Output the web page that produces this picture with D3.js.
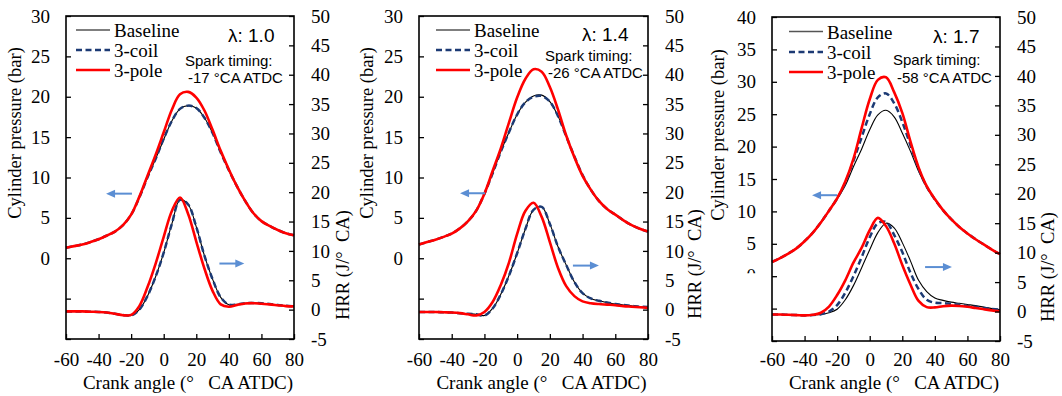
<!DOCTYPE html>
<html>
<head>
<meta charset="utf-8">
<script src="https://cdn.jsdelivr.net/npm/d3@7"></script>
<style>
  body { margin: 0; background: #fff; }
  text { white-space: pre; }
</style>
</head>
<body>
<svg id="chart" width="1062" height="396"></svg>
<script>
// crank angle samples (deg CA ATDC)
const crankAngle = [-60, -55, -50, -45, -40, -35, -30, -25, -20, -15, -10, -5, 0, 5, 10, 15, 20, 25, 30, 35, 40, 45, 50, 55, 60, 65, 70, 75, 80];

// lambda 1.0 : cylinder pressure (bar)
const p1Baseline = [1.3, 1.5, 1.7, 2.0, 2.35, 2.8, 3.3, 4.1, 5.4, 7.5, 10.0, 12.3, 14.7, 17.0, 18.5, 18.9, 18.6, 17.4, 15.5, 13.1, 10.9, 8.9, 7.1, 5.6, 4.6, 4.0, 3.5, 3.1, 2.85];
const p1Coil     = [1.3, 1.5, 1.7, 2.0, 2.35, 2.8, 3.3, 4.1, 5.4, 7.5, 10.0, 12.3, 14.8, 17.0, 18.5, 18.9, 18.6, 17.4, 15.5, 13.1, 10.9, 8.9, 7.1, 5.6, 4.6, 4.0, 3.5, 3.1, 2.85];
const p1Pole     = [1.3, 1.5, 1.7, 2.0, 2.35, 2.8, 3.3, 4.1, 5.4, 7.6, 10.2, 12.8, 15.6, 18.4, 20.3, 20.6, 19.9, 18.3, 15.9, 13.3, 11.0, 8.9, 7.1, 5.6, 4.6, 4.0, 3.5, 3.1, 2.85];
// lambda 1.0 : heat release rate (J/deg CA)
const h1Baseline = [-0.3, -0.3, -0.3, -0.35, -0.4, -0.5, -0.7, -0.9, -1.0, 0.0, 2.3, 5.6, 9.7, 14.6, 18.7, 17.9, 14.1, 9.2, 5.2, 2.1, 0.85, 0.9, 1.1, 1.15, 1.1, 0.95, 0.8, 0.65, 0.55];
const h1Coil     = [-0.3, -0.3, -0.3, -0.35, -0.4, -0.5, -0.7, -0.9, -1.0, 0.0, 2.3, 5.6, 9.7, 14.6, 18.7, 17.9, 14.1, 9.2, 5.2, 2.1, 0.85, 0.9, 1.1, 1.15, 1.1, 0.95, 0.8, 0.65, 0.55];
const h1Pole     = [-0.3, -0.3, -0.3, -0.35, -0.4, -0.5, -0.7, -0.95, -0.9, 0.6, 3.8, 7.8, 12.4, 16.8, 19.1, 16.3, 11.6, 7.0, 3.2, 0.9, 0.5, 0.8, 1.05, 1.1, 1.0, 0.9, 0.75, 0.6, 0.55];

// lambda 1.4
const p2Baseline = [1.7, 2.0, 2.3, 2.65, 3.05, 3.7, 4.6, 5.9, 8.0, 10.5, 13.2, 15.6, 17.8, 19.3, 20.1, 20.2, 19.4, 17.6, 15.1, 12.6, 10.3, 8.5, 7.1, 6.1, 5.4, 4.7, 4.1, 3.65, 3.3];
const p2Coil     = [1.7, 2.0, 2.3, 2.65, 3.05, 3.7, 4.6, 5.9, 8.0, 10.5, 13.2, 15.6, 17.8, 19.3, 20.0, 20.1, 19.4, 17.6, 15.1, 12.6, 10.3, 8.5, 7.1, 6.1, 5.4, 4.7, 4.1, 3.65, 3.3];
const p2Pole     = [1.7, 2.0, 2.3, 2.65, 3.05, 3.7, 4.6, 5.9, 8.0, 10.8, 13.6, 16.8, 19.9, 22.2, 23.4, 23.1, 21.2, 18.4, 15.2, 12.5, 10.2, 8.5, 7.1, 6.1, 5.4, 4.7, 4.1, 3.65, 3.3];
const h2Baseline = [-0.4, -0.4, -0.4, -0.45, -0.5, -0.6, -0.7, -0.8, -1.0, 0.2, 2.6, 5.8, 9.6, 13.7, 17.0, 17.5, 14.6, 10.7, 7.6, 4.7, 2.8, 1.9, 1.5, 1.2, 0.95, 0.8, 0.65, 0.5, 0.45];
const h2Coil     = [-0.4, -0.4, -0.4, -0.45, -0.5, -0.6, -0.7, -0.8, -1.0, 0.2, 2.6, 5.8, 9.6, 13.7, 17.0, 17.5, 14.6, 10.7, 7.6, 4.7, 2.8, 1.9, 1.5, 1.2, 0.95, 0.8, 0.65, 0.5, 0.45];
const h2Pole     = [-0.4, -0.4, -0.4, -0.45, -0.5, -0.6, -0.8, -1.0, -0.4, 1.3, 4.2, 8.0, 12.9, 16.8, 18.2, 15.8, 11.5, 7.1, 4.0, 2.3, 1.4, 1.1, 0.95, 0.85, 0.75, 0.6, 0.5, 0.4, 0.3];

// lambda 1.7
const p3Baseline = [2.2, 2.8, 3.5, 4.3, 5.4, 6.7, 8.3, 10.1, 11.9, 14.0, 16.9, 19.6, 22.6, 24.9, 25.6, 24.6, 22.1, 19.3, 16.2, 13.7, 11.8, 10.2, 8.8, 7.6, 6.6, 5.7, 4.9, 4.1, 3.4];
const p3Coil     = [2.2, 2.8, 3.5, 4.3, 5.4, 6.7, 8.3, 10.1, 12.0, 14.4, 17.8, 21.4, 25.0, 27.6, 28.2, 26.7, 23.8, 20.2, 16.6, 13.8, 11.85, 10.2, 8.8, 7.6, 6.6, 5.7, 4.9, 4.1, 3.4];
const p3Pole     = [2.2, 2.8, 3.5, 4.3, 5.4, 6.7, 8.3, 10.1, 12.0, 14.6, 18.1, 22.8, 27.3, 30.3, 30.7, 28.4, 25.2, 20.8, 16.8, 13.9, 11.9, 10.2, 8.8, 7.6, 6.6, 5.7, 4.9, 4.1, 3.4];
const h3Baseline = [-0.5, -0.5, -0.55, -0.6, -0.65, -0.55, -0.5, -0.2, 0.4, 2.0, 4.4, 7.4, 10.5, 13.4, 15.0, 14.2, 11.7, 8.6, 5.3, 3.4, 2.3, 1.9, 1.6, 1.4, 1.2, 1.0, 0.75, 0.5, 0.3];
const h3Coil     = [-0.5, -0.5, -0.55, -0.6, -0.65, -0.6, -0.45, 0.0, 1.1, 3.2, 6.0, 9.2, 12.6, 15.0, 15.2, 13.0, 10.1, 6.6, 3.8, 2.0, 1.5, 1.45, 1.3, 1.15, 0.95, 0.8, 0.6, 0.45, 0.3];
const h3Pole     = [-0.5, -0.5, -0.55, -0.6, -0.65, -0.55, -0.2, 0.85, 2.8, 5.3, 8.3, 10.8, 13.8, 15.9, 14.5, 11.6, 7.9, 4.6, 1.8, 0.75, 0.7, 0.9, 1.0, 0.95, 0.8, 0.6, 0.4, 0.2, 0.05];

// ticks and labels
const xTicks = [-60, -40, -20, 0, 20, 40, 60, 80];
const pTicks30 = [-10, -5, 0, 5, 10, 15, 20, 25, 30];
const pTicks40 = [-10, -5, 0, 5, 10, 15, 20, 25, 30, 35, 40];
const hrrTicks = [-5, 0, 5, 10, 15, 20, 25, 30, 35, 40, 45, 50];
const seriesNames = ['Baseline', '3-coil', '3-pole'];
const lambdaLabels = ['\u03bb: 1.0', '\u03bb: 1.4', '\u03bb: 1.7'];
const sparkLabels = ['-17 \u00b0CA ATDC', '-26 \u00b0CA ATDC', '-58 \u00b0CA ATDC'];

const serif = '"Liberation Serif", "Times New Roman", serif';
const sans = '"Liberation Sans", Arial, sans-serif';
const arrowBlue = '#5b8ed3';
const styles = [
  { color: '#000', width: 1.1, dash: null },
  { color: '#1c3a74', width: 2.5, dash: '6,3.5' },
  { color: '#ff0000', width: 2.6, dash: null }
];

// layout of the three panels
const panels = [
  {
    left: 66, right: 294, top: 16, bottom: 339, pMax: 30, pTicks: pTicks30, pLabelMin: 0,
    pres: [p1Baseline, p1Coil, p1Pole], hrr: [h1Baseline, h1Coil, h1Pole],
    legLine: [76, 110], legText: 114, legY: [37, 57, 77],
    lamX: 228, lamY: 42, sparkX: [185, 188], sparkY: [66, 82.5],
    cylX: 21, cylY: 133, hrrX: 349, hrrY: 265,
    arrowL: { a: -35.4, b: -19.5, v: 8.0 }, arrowR: { a: 34.2, b: 49.5, v: 7.85 }
  },
  {
    left: 419, right: 648, top: 16, bottom: 339, pMax: 30, pTicks: pTicks30, pLabelMin: 0,
    pres: [p2Baseline, p2Coil, p2Pole], hrr: [h2Baseline, h2Coil, h2Pole],
    legLine: [436, 470], legText: 474, legY: [37, 57, 77],
    lamX: 582, lamY: 41, sparkX: [545, 548], sparkY: [60.5, 77.5],
    cylX: 373, cylY: 133, hrrX: 701, hrrY: 264,
    arrowL: { a: -34.9, b: -19.6, v: 8.05 }, arrowR: { a: 34.1, b: 50.0, v: 7.5 }
  },
  {
    left: 772, right: 1000, top: 17, bottom: 341, pMax: 40, pTicks: pTicks40, pLabelMin: 5,
    pres: [p3Baseline, p3Coil, p3Pole], hrr: [h3Baseline, h3Coil, h3Pole],
    legLine: [789, 823], legText: 827, legY: [38.5, 59, 79],
    lamX: 933, lamY: 43, sparkX: [893, 897], sparkY: [64.5, 82.5],
    cylX: 724, cylY: 135, hrrX: 1054, hrrY: 267,
    arrowL: { a: -35.4, b: -20.1, v: 12.5 }, arrowR: { a: 34.0, b: 50.5, v: 7.55 }
  }
];

const tickBaseline = 366;   // x tick labels baseline
const titleBaseline = 389;  // crank angle title baseline

const svg = d3.select('#chart');

function styleAxis(g) {
  g.select('.domain').remove();
  g.selectAll('line').attr('stroke', '#000').attr('stroke-width', 1.3);
  g.selectAll('text')
    .attr('fill', '#000')
    .style('font-family', serif)
    .style('font-size', '19px');
}

function arrow(g, x1, x2, y, dir) {
  // dir = -1 points left, 1 points right
  const tip = dir < 0 ? Math.min(x1, x2) : Math.max(x1, x2);
  const tail = dir < 0 ? Math.max(x1, x2) : Math.min(x1, x2);
  g.append('line')
    .attr('x1', tail).attr('x2', tip - dir * 7)
    .attr('y1', y).attr('y2', y)
    .attr('stroke', arrowBlue).attr('stroke-width', 2);
  g.append('path')
    .attr('d', `M${tip},${y} L${tip - dir * 9},${y - 4} L${tip - dir * 9},${y + 4} Z`)
    .attr('fill', arrowBlue);
}

panels.forEach((cfg, pi) => {
  const x = d3.scaleLinear().domain([-60, 80]).range([cfg.left, cfg.right]);
  const yP = d3.scaleLinear().domain([-10, cfg.pMax]).range([cfg.bottom, cfg.top]);
  const yH = d3.scaleLinear().domain([-5, 50]).range([cfg.bottom, cfg.top]);
  const g = svg.append('g');

  // curves
  const lineP = d3.line().x((d, i) => x(crankAngle[i])).y((d) => yP(d)).curve(d3.curveCatmullRom.alpha(0.5));
  const lineH = d3.line().x((d, i) => x(crankAngle[i])).y((d) => yH(d)).curve(d3.curveCatmullRom.alpha(0.5));
  const curves = g.append('g');
  styles.forEach((s, si) => {
    [[lineP, cfg.pres[si]], [lineH, cfg.hrr[si]]].forEach(([gen, vals]) => {
      curves.append('path')
        .attr('d', gen(vals))
        .attr('fill', 'none')
        .attr('stroke', s.color)
        .attr('stroke-width', s.width)
        .attr('stroke-dasharray', s.dash);
    });
  });

  // axes (ticks inside)
  g.append('g')
    .attr('transform', `translate(${cfg.left},0)`)
    .call(d3.axisLeft(yP).tickValues(cfg.pTicks).tickSize(-5).tickPadding(16)
      .tickFormat((d) => (d >= cfg.pLabelMin ? String(d) : '')))
    .call(styleAxis);
  g.append('g')
    .attr('transform', `translate(${cfg.right},0)`)
    .call(d3.axisRight(yH).tickValues(hrrTicks).tickSize(-5).tickPadding(17)
      .tickFormat((d) => String(d)))
    .call(styleAxis)
    .selectAll('text').attr('text-anchor', 'start');
  g.append('g')
    .attr('transform', `translate(0,${cfg.bottom})`)
    .call(d3.axisBottom(x).tickValues(xTicks).tickSize(-5)
      .tickFormat((d) => String(d)))
    .call(styleAxis)
    .selectAll('text')
    .attr('y', tickBaseline - cfg.bottom)
    .attr('dy', null);

  // hidden zero label on the third panel, only its top peeks out
  if (cfg.pLabelMin > 0) {
    const clipId = `clip${pi}`;
    g.append('clipPath').attr('id', clipId)
      .append('rect').attr('x', cfg.left - 40).attr('y', yP(0) - 10).attr('width', 40).attr('height', 7);
    g.append('text')
      .attr('clip-path', `url(#${clipId})`)
      .attr('x', cfg.left - 16).attr('y', yP(0)).attr('dy', '0.32em')
      .attr('text-anchor', 'end')
      .style('font-family', serif).style('font-size', '19px')
      .text('0');
  }

  // frame
  g.append('rect')
    .attr('x', cfg.left).attr('y', cfg.top)
    .attr('width', cfg.right - cfg.left).attr('height', cfg.bottom - cfg.top)
    .attr('fill', 'none').attr('stroke', '#000').attr('stroke-width', 1.6);

  // axis titles
  g.append('text')
    .attr('transform', `translate(${cfg.cylX},${cfg.cylY}) rotate(-90)`)
    .attr('text-anchor', 'middle')
    .style('font-family', serif).style('font-size', '18.5px')
    .text('Cylinder pressure (bar)');
  g.append('text')
    .attr('transform', `translate(${cfg.hrrX},${cfg.hrrY}) rotate(-90)`)
    .attr('text-anchor', 'middle')
    .style('font-family', serif).style('font-size', '18.5px')
    .text('HRR (J/\u00b0  CA)');
  g.append('text')
    .attr('x', (cfg.left + cfg.right) / 2 + 8).attr('y', titleBaseline)
    .attr('text-anchor', 'middle')
    .style('font-family', serif).style('font-size', '19px')
    .text('Crank angle (\u00b0   CA ATDC)');

  // legend
  styles.forEach((s, si) => {
    g.append('line')
      .attr('x1', cfg.legLine[0]).attr('x2', cfg.legLine[1])
      .attr('y1', cfg.legY[si] - 7).attr('y2', cfg.legY[si] - 7)
      .attr('stroke', si === 0 ? '#555' : s.color)
      .attr('stroke-width', si === 0 ? 1.5 : s.width)
      .attr('stroke-dasharray', s.dash);
    g.append('text')
      .attr('x', cfg.legText).attr('y', cfg.legY[si])
      .style('font-family', serif).style('font-size', '19px')
      .text(seriesNames[si]);
  });

  // annotations
  g.append('text')
    .attr('x', cfg.lamX).attr('y', cfg.lamY)
    .style('font-family', sans).style('font-size', '19px')
    .text(lambdaLabels[pi]);
  g.append('text')
    .attr('x', cfg.sparkX[0]).attr('y', cfg.sparkY[0])
    .style('font-family', sans).style('font-size', '15px')
    .text('Spark timing:');
  g.append('text')
    .attr('x', cfg.sparkX[1]).attr('y', cfg.sparkY[1])
    .style('font-family', sans).style('font-size', '15px')
    .text(sparkLabels[pi]);

  arrow(g, x(cfg.arrowL.a), x(cfg.arrowL.b), yP(cfg.arrowL.v), -1);
  arrow(g, x(cfg.arrowR.a), x(cfg.arrowR.b), yH(cfg.arrowR.v), 1);
});
</script>
</body>
</html>
